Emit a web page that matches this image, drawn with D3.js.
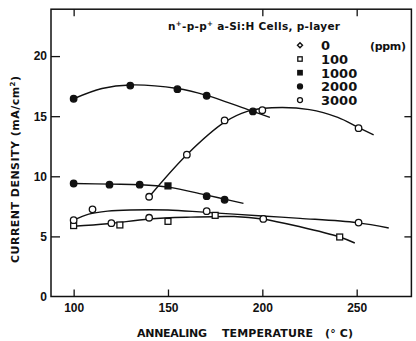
<!DOCTYPE html>
<html>
<head>
<meta charset="utf-8">
<script src="https://cdn.jsdelivr.net/npm/d3@7"></script>
<style>
  body { margin: 0; background: #fff; }
  svg { display: block; font-family: "DejaVu Sans", sans-serif; }
  .tick text { font-size: 12px; font-weight: bold; fill: #111; }
  .tick line { stroke: #111; stroke-width: 1.3; }
</style>
</head>
<body>
<svg width="416" height="341"></svg>
<script>
// values
var xTicks = [100, 150, 200, 250];
var yTicks = [0, 5, 10, 15, 20];
var legendLabels = ["0", "100", "1000", "2000", "3000"];
var legendShapes = ["diamond", "square", "fsquare", "fcircle", "circle"];

// measured points (temperature, current density, marker)
var ppm0Temp = [140, 160, 180, 200, 251];
var ppm0Val = [8.3, 11.8, 14.65, 15.5, 14.0];
var ppm0Mark = ["circle", "circle", "circle", "circle", "circle"];

var ppm100Temp = [100, 120, 124.5, 140, 150, 175, 200.5, 241];
var ppm100Val = [5.9, 6.1, 5.95, 6.55, 6.25, 6.75, 6.45, 4.95];
var ppm100Mark = ["square", "circle", "square", "circle", "square", "square", "circle", "square"];

var ppm1000Temp = [100, 119, 135, 150, 170.5, 180];
var ppm1000Val = [9.4, 9.3, 9.3, 9.2, 8.35, 8.05];
var ppm1000Mark = ["fcircle", "fcircle", "fcircle", "fsquare", "fcircle", "fcircle"];

var ppm2000Temp = [100, 130, 155, 170.5, 195];
var ppm2000Val = [16.45, 17.55, 17.25, 16.7, 15.4];
var ppm2000Mark = ["fcircle", "fcircle", "fcircle", "fcircle", "fcircle"];

var ppm3000Temp = [100, 110, 170.5, 251];
var ppm3000Val = [6.35, 7.25, 7.1, 6.15];
var ppm3000Mark = ["circle", "circle", "circle", "circle"];

// hand drawn fit curves
var fit0Temp = [140, 160, 180, 192, 205, 225, 240, 251, 259];
var fit0Val = [8.3, 11.8, 14.5, 15.4, 15.7, 15.55, 14.9, 14.05, 13.45];
var fit100Temp = [100, 118, 140, 162, 185, 200, 220, 241, 249];
var fit100Val = [5.85, 6.05, 6.45, 6.6, 6.65, 6.45, 5.8, 4.95, 4.45];
var fit1000Temp = [100, 120, 135, 150, 170, 180, 190];
var fit1000Val = [9.4, 9.35, 9.3, 9.1, 8.45, 8.1, 7.75];
var fit2000Temp = [100, 115, 130, 155, 170, 195, 204];
var fit2000Val = [16.45, 17.3, 17.6, 17.3, 16.75, 15.4, 14.9];
var fit3000Temp = [100, 108, 118, 130, 150, 170, 200, 220, 250, 267];
var fit3000Val = [6.35, 6.85, 7.1, 7.2, 7.2, 7.0, 6.7, 6.5, 6.15, 5.7];

var series = [
  { t: ppm0Temp, v: ppm0Val, m: ppm0Mark, ft: fit0Temp, fv: fit0Val },
  { t: ppm100Temp, v: ppm100Val, m: ppm100Mark, ft: fit100Temp, fv: fit100Val },
  { t: ppm1000Temp, v: ppm1000Val, m: ppm1000Mark, ft: fit1000Temp, fv: fit1000Val },
  { t: ppm2000Temp, v: ppm2000Val, m: ppm2000Mark, ft: fit2000Temp, fv: fit2000Val },
  { t: ppm3000Temp, v: ppm3000Val, m: ppm3000Mark, ft: fit3000Temp, fv: fit3000Val }
];

var ink = "#111";
var svg = d3.select("svg");

var x = d3.scaleLinear().domain([88, 279]).range([51, 411.4]);
var y = d3.scaleLinear().domain([0, 23.9]).range([296.5, 9.2]);

// frame
svg.append("rect")
  .attr("x", x(88)).attr("y", y(23.9))
  .attr("width", x(279) - x(88)).attr("height", y(0) - y(23.9))
  .attr("fill", "none").attr("stroke", ink).attr("stroke-width", 1.5);

// axes, ticks pointing inward
var gx = svg.append("g").attr("transform", "translate(0," + y(0) + ")")
  .call(d3.axisBottom(x).tickValues(xTicks).tickSize(-7).tickSizeOuter(0).tickPadding(7));
var gy = svg.append("g").attr("transform", "translate(" + x(88) + ",0)")
  .call(d3.axisLeft(y).tickValues(yTicks).tickSize(-9).tickSizeOuter(0).tickPadding(4));
svg.append("g").attr("transform", "translate(0," + y(23.9) + ")")
  .call(d3.axisTop(x).tickValues([100, 200, 250]).tickSize(-7).tickSizeOuter(0).tickFormat(""));
svg.append("g").attr("transform", "translate(" + x(279) + ",0)")
  .call(d3.axisRight(y).tickValues([5, 10, 15]).tickSize(-7).tickSizeOuter(0).tickFormat(""));
svg.selectAll(".domain").remove();
gy.selectAll(".tick").filter(function(d) { return d === 0; }).select("line").remove();

// fit curves
var line = d3.line()
  .x(function(d) { return x(d[0]); })
  .y(function(d) { return y(d[1]); })
  .curve(d3.curveCatmullRom.alpha(0.5));

series.forEach(function(s) {
  svg.append("path")
    .datum(s.ft.map(function(t, i) { return [t, s.fv[i]]; }))
    .attr("d", line)
    .attr("fill", "none").attr("stroke", ink).attr("stroke-width", 1.4);
});

function drawMark(g, shape, cx, cy, size) {
  if (shape === "circle" || shape === "fcircle") {
    g.append("circle").attr("cx", cx).attr("cy", cy).attr("r", size / 2)
      .attr("fill", shape === "fcircle" ? ink : "#fff")
      .attr("stroke", ink).attr("stroke-width", 1.3);
  } else if (shape === "square" || shape === "fsquare") {
    g.append("rect").attr("x", cx - size / 2 + 0.3).attr("y", cy - size / 2 + 0.3)
      .attr("width", size - 0.6).attr("height", size - 0.6)
      .attr("fill", shape === "fsquare" ? ink : "#fff")
      .attr("stroke", ink).attr("stroke-width", 1.3);
  } else {
    var h = size / 2;
    g.append("path")
      .attr("d", "M" + cx + "," + (cy - h) + "L" + (cx + h) + "," + cy + "L" + cx + "," + (cy + h) + "L" + (cx - h) + "," + cy + "Z")
      .attr("fill", "#fff").attr("stroke", ink).attr("stroke-width", 1.4);
  }
}

var marks = svg.append("g");
series.forEach(function(s) {
  s.t.forEach(function(t, i) {
    drawMark(marks, s.m[i], x(t), y(s.v[i]), 6.5);
  });
});

// legend
var title = svg.append("text")
  .attr("x", 168).attr("y", 29.5)
  .attr("font-size", 10.5).attr("font-weight", "bold").attr("fill", ink)
  .attr("textLength", 172).attr("lengthAdjust", "spacing");
title.append("tspan").text("n");
title.append("tspan").attr("font-size", 7).attr("dy", -4).text("+");
title.append("tspan").attr("dy", 4).text("-p-p");
title.append("tspan").attr("font-size", 7).attr("dy", -4).text("+");
title.append("tspan").attr("dy", 4).text(" a-Si:H Cells,  p-layer");

var lg = svg.append("g");
legendLabels.forEach(function(lab, i) {
  var cy = 45.3 + i * 13.7;
  drawMark(lg, legendShapes[i], 300, cy, 5);
  lg.append("text").attr("x", 321).attr("y", cy + 4.8)
    .attr("font-size", 13).attr("font-weight", "bold").attr("fill", ink)
    .text(lab);
});
lg.append("text").attr("x", 370).attr("y", 45.3 + 4.5)
  .attr("font-size", 11).attr("font-weight", "bold").attr("fill", ink)
  .attr("textLength", 36).attr("lengthAdjust", "spacing")
  .text("(ppm)");

// axis titles, words spaced as in the original lettering
[["ANNEALING", 137, 70], ["TEMPERATURE", 222, 91], ["(° C)", 325, 28]].forEach(function(w) {
  svg.append("text")
    .attr("x", w[1]).attr("y", 337)
    .attr("font-size", 11).attr("font-weight", "bold").attr("fill", ink)
    .attr("textLength", w[2]).attr("lengthAdjust", "spacing")
    .text(w[0]);
});

var yl = svg.append("text")
  .attr("transform", "translate(19,263) rotate(-90)")
  .attr("font-size", 11).attr("font-weight", "bold").attr("fill", ink)
  .attr("textLength", 187).attr("lengthAdjust", "spacing");
yl.append("tspan").text("CURRENT  DENSITY (mA/cm");
yl.append("tspan").attr("font-size", 7).attr("dy", -4).text("2");
yl.append("tspan").attr("dy", 4).text(")");
</script>
</body>
</html>
